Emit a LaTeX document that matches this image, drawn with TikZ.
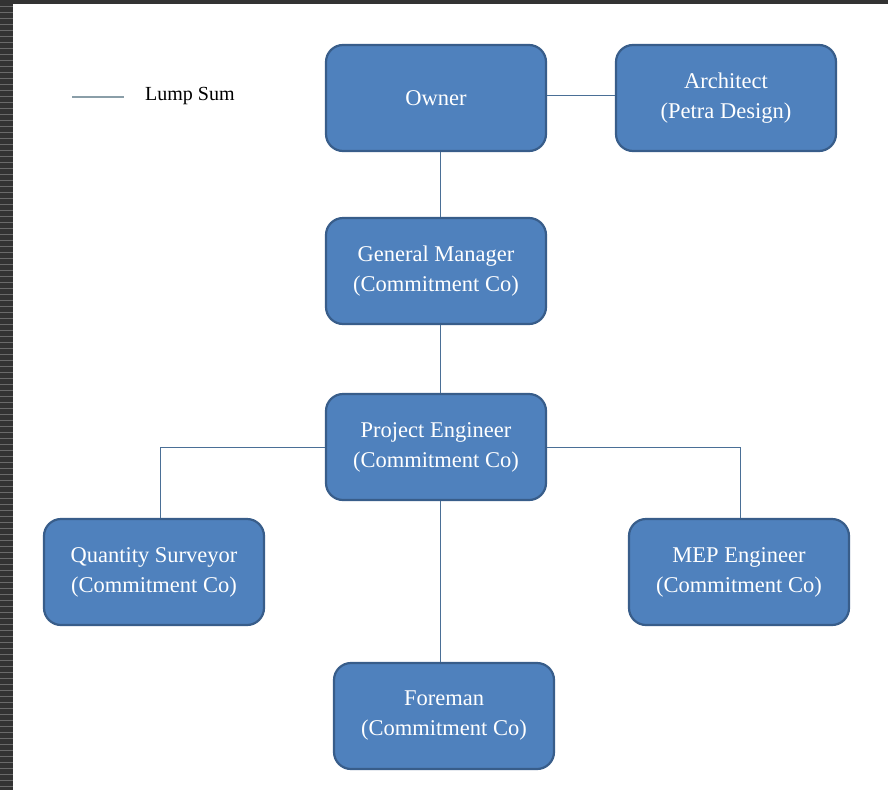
\documentclass[tikz,border=0pt]{standalone}
\usepackage{fontspec}
\setmainfont{Liberation Serif}
\definecolor{boxfill}{HTML}{4F81BD}
\definecolor{boxline}{HTML}{385D8A}
\definecolor{conn}{HTML}{4A6F96}
\definecolor{legline}{HTML}{8A9EA8}
\definecolor{frame}{HTML}{333333}
\definecolor{stripe}{HTML}{6A6A6A}
\begin{document}
\begin{tikzpicture}[x=1pt,y=-1pt,
  box/.style={draw=boxline, line width=2.2pt, fill=boxfill, rounded corners=17pt,
    minimum width=220pt, minimum height=106pt, text=white, align=center,
    font=\fontsize{22.5}{30}\selectfont, inner sep=0pt},
  conline/.style={draw=conn, line width=1pt}]
\useasboundingbox (0,0) rectangle (888,790);
\fill[white] (0,0) rectangle (888,790);
\fill[frame] (0,0) rectangle (888,4);
\fill[frame] (0,0) rectangle (13,790);
\foreach \i in {0,...,130} {
  \draw[stripe, line width=1pt] (0,{6+6*\i}) -- (13,{6+6*\i});
}
% legend
\coordinate (lg1) at (72,97);
\coordinate (lg2) at (124,97);
\draw[legline, line width=1.2pt] (lg1) -- (lg2);
\node[anchor=west, font=\fontsize{20}{24}\selectfont, inner sep=0pt] (leg) at (145,96) {Lump Sum};
% boxes
\node[box] (own) at (436,98) {Owner};
\node[box] (arc) at (726,98) {Architect\\(Petra Design)};
\node[box] (gm) at (436,271) {General Manager\\(Commitment Co)};
\node[box] (pe) at (436,447) {Project Engineer\\(Commitment Co)};
\node[box] (qs) at (154,572) {Quantity Surveyor\\(Commitment Co)};
\node[box] (mep) at (739,572) {MEP Engineer\\(Commitment Co)};
\node[box] (fm) at (444,716) {Foreman\\(Commitment Co)};
% connectors
\draw[conline] (own.east |- 0,95) -- (arc.west |- 0,95);
\draw[conline] (own.south -| 440,0) -- (gm.north -| 440,0);
\draw[conline] (gm.south -| 440,0) -- (pe.north -| 440,0);
\draw[conline] (pe.west |- 0,447) -| (qs.north -| 160,0);
\draw[conline] (pe.east |- 0,447) -| (mep.north -| 740,0);
\draw[conline] (pe.south -| 440,0) -- (fm.north -| 440,0);
\end{tikzpicture}
\end{document}
